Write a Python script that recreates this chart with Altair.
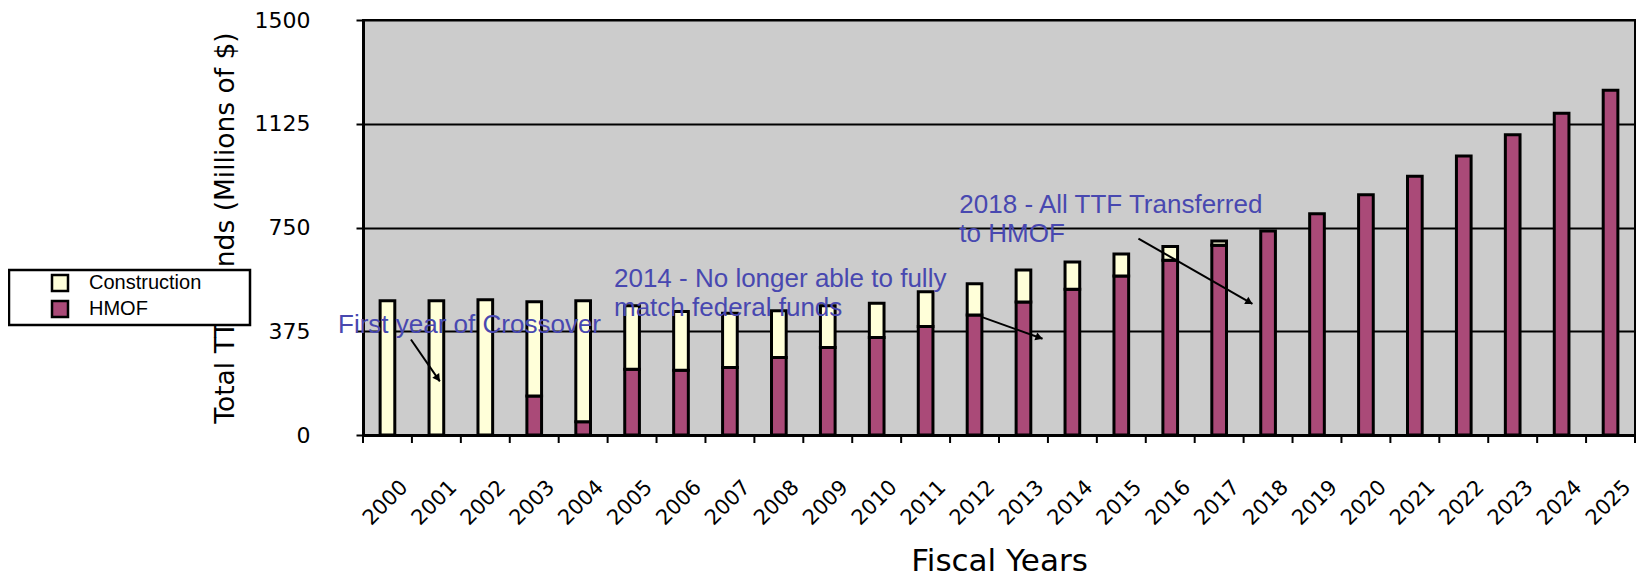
import math
import altair as alt
import pandas as pd

# ---------------- data ----------------
years = ["2000", "2001", "2002", "2003", "2004", "2005", "2006", "2007", "2008",
         "2009", "2010", "2011", "2012", "2013", "2014", "2015", "2016", "2017",
         "2018", "2019", "2020", "2021", "2022", "2023", "2024", "2025"]
hmof = [0, 0, 0, 141, 48, 238, 234, 244, 280, 316, 352, 392, 434, 481, 527,
        575, 632, 686, 737, 800, 868, 935, 1008, 1085, 1163, 1246]
construction = [485, 485, 489, 341, 437, 229, 212, 196, 169, 151, 124, 126,
                113, 115, 98, 79, 49, 15, 0, 0, 0, 0, 0, 0, 0, 0]
series_names = ["Construction", "HMOF"]
y_ticks = [0, 375, 750, 1125, 1500]

# annotations (x in category-index units, y in millions of $)
ann_text = ["First year of Crossover",
            "2014 - No longer able to fully\nmatch federal funds",
            "2018 - All TTF Transferred\nto HMOF"]
ann_x = [-1.01, 4.63, 11.69]
ann_y = [370, 535, 804]

arrow_x0 = [0.48, 12.14, 15.35]
arrow_y0 = [345, 427, 710]
arrow_x1 = [1.07, 13.39, 17.68]
arrow_y1 = [194, 348, 474]

# ---------------- layout / style ----------------
W, H = 1272, 415
YMAX = 1500
N = len(years)
PX_X = W / N
PX_Y = H / YMAX
C_CONS = "#FFFFD9"
C_HMOF = "#AA4A78"
BLUE = "#4848B0"
PAD_LABEL = "\u2800\u2800\u2800"

rows = []
for i, yr in enumerate(years):
    if hmof[i] > 0:
        rows.append({"year": yr, "series": "HMOF", "value": hmof[i], "ord": 0})
    if construction[i] > 0:
        rows.append({"year": yr, "series": "Construction", "value": construction[i], "ord": 1})
bar_df = pd.DataFrame(rows)

tick_df = pd.DataFrame({"b": [i - 0.5 for i in range(N + 1)]})

arrow_df = pd.DataFrame({"x": arrow_x0, "x2": arrow_x1, "value": arrow_y0, "value2": arrow_y1})
heads = []
for x0, y0, x1, y1 in zip(arrow_x0, arrow_y0, arrow_x1, arrow_y1):
    dx = (x1 - x0) * PX_X
    dy = -(y1 - y0) * PX_Y
    L = math.hypot(dx, dy)
    ux, uy = dx / L, dy / L
    ang = math.degrees(math.atan2(dx, -dy)) % 360
    back = 3.5
    heads.append({"x": x1 - ux * back / PX_X, "value": y1 + uy * back / PX_Y, "ang": ang})
head_df = pd.DataFrame(heads)

text_df = pd.DataFrame({"x": ann_x, "value": ann_y, "t": ann_text})

y_scale = alt.Scale(domain=[0, YMAX], nice=False)
y_axis = alt.Axis(values=y_ticks, format="d", title="Total TTF Funds (Millions of $)",
                  titleFont="DejaVu Sans", titleFontSize=26.5, titleFontWeight="normal",
                  titleColor="black", titleAngle=270, titleX=-130, titleY=H / 2,
                  titleAlign="center", titleBaseline="alphabetic",
                  labelFont="DejaVu Sans", labelFontSize=22, labelColor="black",
                  labelPadding=46, tickSize=7, tickWidth=2, tickColor="black",
                  domainColor="black", domainWidth=3,
                  grid=True, gridColor="black", gridWidth=2)


def qx(field):
    return alt.X(field, scale=alt.Scale(domain=[-0.5, N - 0.5], nice=False, zero=False), axis=None)


def qy(field):
    return alt.Y(field, scale=y_scale, axis=y_axis)


bars = alt.Chart(bar_df).mark_bar(
    width=alt.RelativeBandSize(0.3), stroke="black", strokeWidth=3
).encode(
    x=alt.X("year:N", sort=years,
            scale=alt.Scale(paddingInner=0, paddingOuter=0),
            axis=alt.Axis(title="Fiscal Years", titleFont="DejaVu Sans", titleFontSize=31,
                          titleFontWeight="normal", titleColor="black",
                          titleX=W / 2, titleY=135, titleAlign="center",
                          titleBaseline="alphabetic",
                          labelFont="DejaVu Sans", labelFontSize=21, labelColor="black",
                          labelAngle=315, labelAlign="right", labelBaseline="alphabetic",
                          labelOffset=PX_X / 2 - 3, labelPadding=53, labelOverlap=False,
                          ticks=False, tickSize=0,
                          domainColor="black", domainWidth=3)),
    y=alt.Y("value:Q", stack="zero", scale=y_scale, axis=y_axis),
    color=alt.Color("series:N",
                    scale=alt.Scale(domain=series_names, range=[C_CONS, C_HMOF]),
                    legend=alt.Legend(title=None, orient="none", legendX=-354, legendY=250,
                                      symbolType="square", symbolSize=256,
                                      symbolStrokeColor="black", symbolStrokeWidth=2.5,
                                      labelFont="Liberation Sans", labelFontSize=20,
                                      labelColor="black", labelOffset=19, labelLimit=400,
                                      labelExpr="datum.label + '" + PAD_LABEL + "'",
                                      symbolOffset=38, padding=3, rowPadding=0,
                                      strokeColor="black", fillColor="white")),
    order=alt.Order("ord:Q"),
)

ticks = alt.Chart(tick_df).mark_rule(color="black", strokeWidth=2).encode(
    x=qx("b:Q"), y=alt.value(H + 1), y2=alt.value(H + 8)
)

arrows = alt.Chart(arrow_df).mark_rule(color="black", strokeWidth=2).encode(
    x=qx("x:Q"), x2="x2:Q",
    y=qy("value:Q"), y2="value2:Q",
)

arrow_heads = alt.Chart(head_df).mark_point(
    shape="triangle-up", filled=True, size=70, color="black", opacity=1
).encode(
    x=qx("x:Q"), y=qy("value:Q"),
    angle=alt.Angle("ang:Q", scale=None),
)

texts = alt.Chart(text_df).mark_text(
    align="left", baseline="alphabetic", font="Liberation Sans", fontSize=26,
    color=BLUE, lineBreak="\n", lineHeight=29
).encode(
    x=qx("x:Q"), y=qy("value:Q"), text="t:N"
)

chart = alt.layer(bars, ticks, arrows, arrow_heads, texts).resolve_scale(
    x="independent"
).properties(
    width=W, height=H,
    autosize=alt.AutoSizeParams(type="none"),
    padding={"left": 355, "top": 12, "right": 2, "bottom": 143},
).configure_view(
    fill="#CCCCCC", stroke="black", strokeWidth=2
).configure_legend(
    strokeWidth=2.5
)

chart.save("out.html", embed_options={"renderer": "svg", "actions": False})
